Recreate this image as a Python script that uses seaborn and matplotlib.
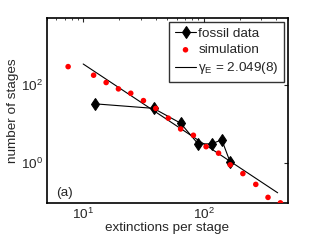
import matplotlib
matplotlib.use("Agg")
import matplotlib.pyplot as plt
import matplotlib.ticker as mticker
import numpy as np
import pandas as pd
import seaborn as sns

# simulation (red dots)
sim_x = [7.5, 12.2, 15.5, 19.6, 24.8, 31.6, 40, 50.8, 64.3, 82, 104.5, 132.6, 165.6, 211, 270, 341, 432]
sim_y = [294, 177, 115, 79, 61, 39.5, 25, 14, 7.4, 5.1, 2.6, 1.77, 0.89, 0.53, 0.28, 0.13, 0.094]

# fossil data (black diamonds)
fos_x = [12.6, 38.3, 64.3, 89.6, 115.9, 141, 165.6]
fos_y = [32.6, 25, 10.4, 3.07, 3.07, 3.9, 1.04]

# power-law fit
fit_gamma = 2.049
fit_logA = 4.585
fit_xrange = [10, 410]

sns.set_style("white")
plt.rcParams['font.family'] = ['Liberation Sans', 'DejaVu Sans']
plt.rcParams['mathtext.fontset'] = 'custom'
plt.rcParams['mathtext.rm'] = 'Liberation Sans'
plt.rcParams['mathtext.it'] = 'Liberation Sans'

fs = 9.7
fig = plt.figure(figsize=(3.19, 2.4), dpi=100)
ax = fig.add_axes([0.147, 0.154, 0.756, 0.771])

fit_x = np.array(fit_xrange, dtype=float)
fit_y = 10 ** (fit_logA - fit_gamma * np.log10(fit_x))

sns.lineplot(x=fos_x, y=fos_y, ax=ax, color='black', lw=0.8, marker='d',
             markersize=6.3, markeredgecolor='black', label='fossil data', sort=False)
sns.scatterplot(x=sim_x, y=sim_y, ax=ax, color='red', s=16, edgecolor='none',
                label='simulation', zorder=3)
sns.lineplot(x=fit_x, y=fit_y, ax=ax, color='black', lw=0.8,
             label=r'$\gamma_E$ = 2.049(8)')

ax.set_xscale('log')
ax.set_yscale('log')
ax.set_xlim(5, 500)
ax.set_ylim(0.093, 5200)

ax.yaxis.set_major_locator(mticker.FixedLocator([1, 100]))
ax.yaxis.set_minor_locator(mticker.NullLocator())
ax.xaxis.set_major_locator(mticker.FixedLocator([10, 100]))
ax.xaxis.set_minor_locator(mticker.LogLocator(base=10, subs=np.arange(2, 10)))
ax.xaxis.set_minor_formatter(mticker.NullFormatter())
ax.tick_params(which='both', direction='in', top=True, right=True, labelsize=fs)
ax.tick_params(which='major', length=3, width=0.8, pad=3)
ax.tick_params(which='minor', length=1.5, width=0.6)

for s in ax.spines.values():
    s.set_linewidth(1.2)
    s.set_color('black')

ax.set_xlabel('extinctions per stage', fontsize=fs, labelpad=0)
ax.set_ylabel('number of stages', fontsize=fs, labelpad=1)
ax.text(0.04, 0.04, '(a)', transform=ax.transAxes, fontsize=fs)

leg = ax.legend(loc='upper right', fontsize=fs, frameon=True, fancybox=False,
                borderpad=0.4, handlelength=1.6, handletextpad=0.15,
                labelspacing=0.3, borderaxespad=0.3)
leg.get_frame().set_edgecolor('black')
leg.get_frame().set_linewidth(1.0)

fig.savefig('out.png', dpi=100)
